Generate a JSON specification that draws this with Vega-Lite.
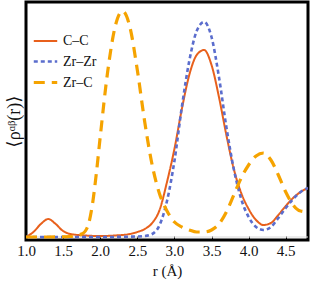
{
  "$schema": "https://vega.github.io/schema/vega-lite/v6.json",
  "autosize": {"type": "none"},
  "padding": {"left": 26, "top": 2, "right": 3, "bottom": 42},
  "width": 282,
  "height": 238,
  "background": "white",
  "config": {
    "view": {"stroke": "black", "strokeWidth": 3},
    "font": "Liberation Serif"
  },
  "data": {
    "values": [
      {"r": 1.0, "s": "C–C", "v": 0}, {"r": 1.1, "s": "C–C", "v": 5}, {"r": 1.2, "s": "C–C", "v": 13}, {"r": 1.3, "s": "C–C", "v": 18}, {"r": 1.4, "s": "C–C", "v": 13}, {"r": 1.5, "s": "C–C", "v": 6}, {"r": 1.6, "s": "C–C", "v": 3}, {"r": 1.8, "s": "C–C", "v": 1.5}, {"r": 2.0, "s": "C–C", "v": 1}, {"r": 2.2, "s": "C–C", "v": 1.5}, {"r": 2.4, "s": "C–C", "v": 3}, {"r": 2.5, "s": "C–C", "v": 5}, {"r": 2.6, "s": "C–C", "v": 8}, {"r": 2.7, "s": "C–C", "v": 14}, {"r": 2.8, "s": "C–C", "v": 27}, {"r": 2.9, "s": "C–C", "v": 55}, {"r": 3.0, "s": "C–C", "v": 88}, {"r": 3.1, "s": "C–C", "v": 128}, {"r": 3.2, "s": "C–C", "v": 162}, {"r": 3.3, "s": "C–C", "v": 182}, {"r": 3.4, "s": "C–C", "v": 187}, {"r": 3.5, "s": "C–C", "v": 172}, {"r": 3.6, "s": "C–C", "v": 140}, {"r": 3.7, "s": "C–C", "v": 102}, {"r": 3.8, "s": "C–C", "v": 68}, {"r": 3.9, "s": "C–C", "v": 44}, {"r": 4.0, "s": "C–C", "v": 28}, {"r": 4.1, "s": "C–C", "v": 17}, {"r": 4.2, "s": "C–C", "v": 12}, {"r": 4.3, "s": "C–C", "v": 14}, {"r": 4.4, "s": "C–C", "v": 22}, {"r": 4.5, "s": "C–C", "v": 31}, {"r": 4.6, "s": "C–C", "v": 39}, {"r": 4.7, "s": "C–C", "v": 45}, {"r": 4.8, "s": "C–C", "v": 49},
      {"r": 1.0, "s": "Zr–Zr", "v": 0}, {"r": 1.5, "s": "Zr–Zr", "v": 0}, {"r": 2.0, "s": "Zr–Zr", "v": 0}, {"r": 2.5, "s": "Zr–Zr", "v": 0.5}, {"r": 2.6, "s": "Zr–Zr", "v": 1}, {"r": 2.7, "s": "Zr–Zr", "v": 3}, {"r": 2.8, "s": "Zr–Zr", "v": 12}, {"r": 2.9, "s": "Zr–Zr", "v": 36}, {"r": 3.0, "s": "Zr–Zr", "v": 76}, {"r": 3.1, "s": "Zr–Zr", "v": 130}, {"r": 3.2, "s": "Zr–Zr", "v": 176}, {"r": 3.3, "s": "Zr–Zr", "v": 206}, {"r": 3.4, "s": "Zr–Zr", "v": 215}, {"r": 3.5, "s": "Zr–Zr", "v": 200}, {"r": 3.6, "s": "Zr–Zr", "v": 160}, {"r": 3.7, "s": "Zr–Zr", "v": 110}, {"r": 3.8, "s": "Zr–Zr", "v": 68}, {"r": 3.9, "s": "Zr–Zr", "v": 38}, {"r": 4.0, "s": "Zr–Zr", "v": 20}, {"r": 4.1, "s": "Zr–Zr", "v": 10}, {"r": 4.2, "s": "Zr–Zr", "v": 7}, {"r": 4.3, "s": "Zr–Zr", "v": 10}, {"r": 4.4, "s": "Zr–Zr", "v": 19}, {"r": 4.5, "s": "Zr–Zr", "v": 29}, {"r": 4.6, "s": "Zr–Zr", "v": 38}, {"r": 4.7, "s": "Zr–Zr", "v": 45}, {"r": 4.8, "s": "Zr–Zr", "v": 49},
      {"r": 1.0, "s": "Zr–C", "v": 0}, {"r": 1.3, "s": "Zr–C", "v": 0}, {"r": 1.6, "s": "Zr–C", "v": 0.5}, {"r": 1.7, "s": "Zr–C", "v": 2}, {"r": 1.75, "s": "Zr–C", "v": 3}, {"r": 1.8, "s": "Zr–C", "v": 6}, {"r": 1.85, "s": "Zr–C", "v": 15}, {"r": 1.9, "s": "Zr–C", "v": 35}, {"r": 1.95, "s": "Zr–C", "v": 65}, {"r": 2.0, "s": "Zr–C", "v": 100}, {"r": 2.1, "s": "Zr–C", "v": 165}, {"r": 2.2, "s": "Zr–C", "v": 210}, {"r": 2.3, "s": "Zr–C", "v": 226}, {"r": 2.4, "s": "Zr–C", "v": 210}, {"r": 2.5, "s": "Zr–C", "v": 167}, {"r": 2.6, "s": "Zr–C", "v": 115}, {"r": 2.7, "s": "Zr–C", "v": 72}, {"r": 2.8, "s": "Zr–C", "v": 43}, {"r": 2.9, "s": "Zr–C", "v": 26}, {"r": 3.0, "s": "Zr–C", "v": 15}, {"r": 3.1, "s": "Zr–C", "v": 10}, {"r": 3.2, "s": "Zr–C", "v": 7}, {"r": 3.3, "s": "Zr–C", "v": 5}, {"r": 3.4, "s": "Zr–C", "v": 5}, {"r": 3.5, "s": "Zr–C", "v": 7}, {"r": 3.6, "s": "Zr–C", "v": 13}, {"r": 3.7, "s": "Zr–C", "v": 25}, {"r": 3.8, "s": "Zr–C", "v": 42}, {"r": 3.9, "s": "Zr–C", "v": 59}, {"r": 4.0, "s": "Zr–C", "v": 72}, {"r": 4.1, "s": "Zr–C", "v": 81}, {"r": 4.2, "s": "Zr–C", "v": 84}, {"r": 4.3, "s": "Zr–C", "v": 77}, {"r": 4.4, "s": "Zr–C", "v": 62}, {"r": 4.5, "s": "Zr–C", "v": 45}, {"r": 4.6, "s": "Zr–C", "v": 32}, {"r": 4.7, "s": "Zr–C", "v": 26}, {"r": 4.8, "s": "Zr–C", "v": 25}
    ]
  },
  "layer": [
    {
      "data": {"values": [{"y0": 0}]},
      "mark": {"type": "rule", "color": "#d9d9d9", "strokeWidth": 1},
      "encoding": {"y": {"field": "y0", "type": "quantitative", "scale": {"domain": [-3, 235]}}}
    },
    {
      "mark": {"type": "line", "interpolate": "monotone", "clip": true},
      "encoding": {
        "x": {
          "field": "r", "type": "quantitative",
          "scale": {"domain": [1.0, 4.8], "nice": false, "zero": false},
          "axis": {
            "title": "r (Å)", "titleFont": "Liberation Serif", "titleFontSize": 15, "titleFontWeight": "normal", "titleColor": "#111",
            "titlePadding": 5,
            "values": [1.0, 1.5, 2.0, 2.5, 3.0, 3.5, 4.0, 4.5], "format": ".1f",
            "labelFont": "Liberation Serif", "labelFontSize": 15, "labelColor": "#111", "labelFlush": false, "labelOverlap": false,
            "domain": false, "ticks": true, "tickSize": -4, "tickColor": "black", "tickWidth": 1, "labelPadding": 7,
            "grid": false
          }
        },
        "y": {
          "field": "v", "type": "quantitative",
          "scale": {"domain": [-3, 235], "nice": false, "zero": false},
          "axis": {
            "title": "⟨ρᵅᵝ(r)⟩", "titleFont": "Liberation Serif, DejaVu Serif", "titleFontSize": 18, "titleFontWeight": "normal", "titleColor": "#111",
            "labels": false, "ticks": false, "domain": false, "grid": false, "titlePadding": 3
          }
        },
        "color": {
          "field": "s", "type": "nominal",
          "scale": {"domain": ["C–C", "Zr–Zr", "Zr–C"], "range": ["#E8601C", "#5B6DCD", "#F5A300"]},
          "legend": {
            "title": null, "orient": "none", "legendX": 6, "legendY": 26,
            "symbolType": "stroke", "symbolSize": 550, "symbolStrokeWidth": 2.5,
            "labelFont": "Liberation Serif", "labelFontSize": 14, "labelColor": "#111",
            "rowPadding": -2, "symbolOffset": 0, "labelOffset": 4
          }
        },
        "strokeDash": {
          "field": "s", "type": "nominal",
          "scale": {"domain": ["C–C", "Zr–Zr", "Zr–C"], "range": [[1, 0], [4, 3], [11, 7]]},
          "legend": null
        },
        "strokeWidth": {
          "field": "s", "type": "nominal",
          "scale": {"domain": ["C–C", "Zr–Zr", "Zr–C"], "range": [2, 3.2, 2.5]},
          "legend": null
        }
      }
    }
  ]
}
